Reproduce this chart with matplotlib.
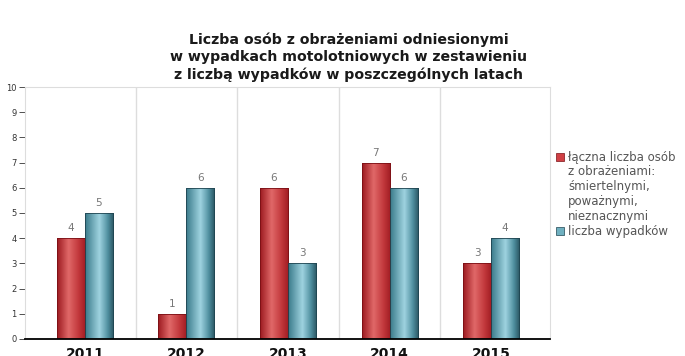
import numpy as np
import matplotlib
matplotlib.use("Agg")
import matplotlib.pyplot as plt
from matplotlib.colors import LinearSegmentedColormap
from matplotlib.patches import Rectangle

years = ["2011", "2012", "2013", "2014", "2015"]
injured = [4, 1, 6, 7, 3]
accidents = [5, 6, 3, 6, 4]
series_labels = [
    "łączna liczba osób\nz obrażeniami:\nśmiertelnymi,\npoważnymi,\nnieznacznymi",
    "liczba wypadków",
]
title = ("Liczba osób z obrażeniami odniesionymi\n"
         "w wypadkach motolotniowych w zestawieniu\n"
         "z liczbą wypadków w poszczególnych latach")

red_cmap = LinearSegmentedColormap.from_list(
    "red", [(0, "#9c1a20"), (0.4, "#e06868"), (0.75, "#c2383c"), (1, "#a01c22")])
blue_cmap = LinearSegmentedColormap.from_list(
    "blue", [(0, "#3a7a8a"), (0.5, "#9fd3e0"), (0.8, "#4f8f9f"), (1, "#2a5561")])

plt.rcParams["font.family"] = ["DejaVu Sans"]
fig = plt.figure(figsize=(6.85, 3.56), dpi=100)
ax = fig.add_axes([0.0365, 0.0478, 0.7664, 0.7078])

x = np.arange(len(years))
w = 0.276
grad = np.linspace(0, 1, 64).reshape(1, -1)


def gradient_bars(xs, vals, cmap, edge):
    bars = ax.bar(xs, vals, width=w, color="none", edgecolor=edge, linewidth=0.6, zorder=3)
    for b in bars:
        im = ax.imshow(grad, cmap=cmap, aspect="auto", zorder=2,
                       extent=[b.get_x(), b.get_x() + b.get_width(), 0, b.get_height()])
        im.set_clip_path(b)
    for b, v in zip(bars, vals):
        ax.text(b.get_x() + b.get_width() / 2, v + 0.2, str(v), ha="center", va="bottom",
                fontsize=7.5, color="#777777", zorder=4)
    return bars


gradient_bars(x - w / 2, injured, red_cmap, "#7a1015")
gradient_bars(x + w / 2, accidents, blue_cmap, "#1f4450")

ax.set_xlim(-0.59, 4.58)
ax.set_ylim(0, 10)
for g in np.arange(0.5, len(years) - 1, 1.0):
    ax.axvline(g, color="#dddddd", linewidth=1, zorder=1)

ax.set_xticks(x)
ax.set_xticklabels(years, fontsize=10, fontweight="bold", color="#111111")
ax.tick_params(axis="x", length=0, pad=6)
ax.set_yticks(range(0, 11))
ax.tick_params(axis="y", labelsize=6, colors="#333333", length=4, width=0.6, pad=2)
for t in ax.yaxis.get_ticklines():
    t.set_color("#999999")
for s in ["top", "right", "left"]:
    ax.spines[s].set_color("#dddddd")
ax.spines["bottom"].set_color("black")
ax.spines["bottom"].set_linewidth(1.3)
ax.spines["bottom"].set_zorder(5)

fig.text(0.509, 0.91, title, ha="center", va="top", fontsize=10.2, fontweight="bold",
         color="#1a1a1a", linespacing=1.3)

# legend, one text line every 15 px
legend_colors = [("#d04045", "#7a1015"), ("#6fb0c0", "#1f4450")]
y_px = 157
for label, (fc, ec) in zip(series_labels, legend_colors):
    fig.patches.append(Rectangle((556 / 685, 1 - (y_px + 4) / 356), 8 / 685, 8 / 356,
                                 transform=fig.transFigure, facecolor=fc,
                                 edgecolor=ec, linewidth=0.5))
    for line in label.split("\n"):
        fig.text(568 / 685, 1 - y_px / 356, line, ha="left", va="center",
                 fontsize=8.5, color="#555555")
        y_px += 14.8

fig.savefig("out.png", dpi=100)
